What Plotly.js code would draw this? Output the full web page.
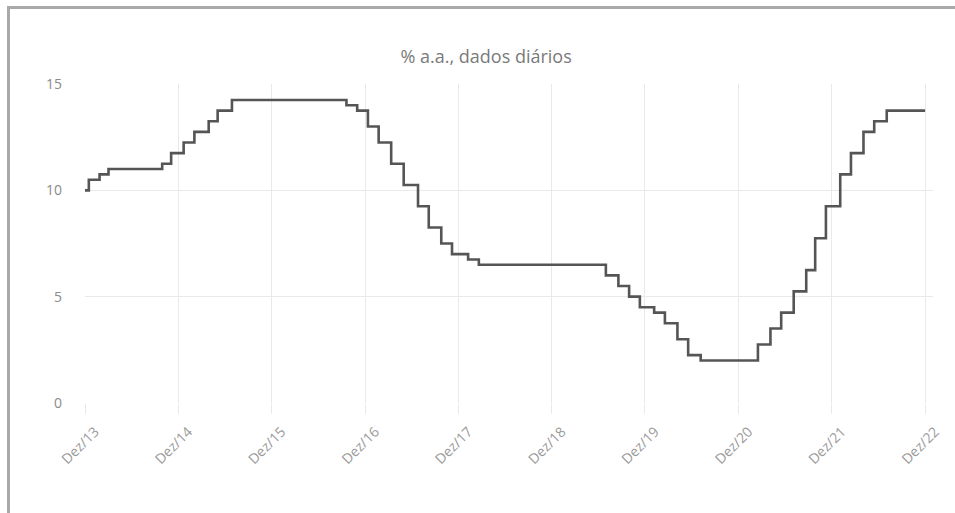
<!DOCTYPE html>
<html>
<head>
<meta charset="utf-8">
<script src="https://cdn.plot.ly/plotly-3.0.1.min.js"></script>
<style>
  html, body { margin: 0; padding: 0; background: #fff; }
  #wrap { position: relative; width: 955px; height: 513px; }
  #chart { width: 955px; height: 513px; }
  #frame { position: absolute; left: 7px; top: 6px; width: 948px; height: 507px;
           border-top: 3px solid #a9a9a9; border-left: 3px solid #a9a9a9;
           box-sizing: border-box; pointer-events: none; }
</style>
</head>
<body>
<div id="wrap">
  <div id="chart"></div>
  <div id="frame"></div>
</div>
<script>
// Meta Selic (% a.a.) — dates of change and the new rate
const changeDates = [
  "2013-12-31", "2014-01-15", "2014-02-26", "2014-04-02", "2014-10-29", "2014-12-03",
  "2015-01-21", "2015-03-04", "2015-04-29", "2015-06-03", "2015-07-29",
  "2016-10-19", "2016-11-30",
  "2017-01-11", "2017-02-22", "2017-04-12", "2017-05-31", "2017-07-26", "2017-09-06", "2017-10-25", "2017-12-06",
  "2018-02-07", "2018-03-21",
  "2019-07-31", "2019-09-18", "2019-10-30", "2019-12-11",
  "2020-02-05", "2020-03-18", "2020-05-06", "2020-06-17", "2020-08-05",
  "2021-03-17", "2021-05-05", "2021-06-16", "2021-08-04", "2021-09-22", "2021-10-27", "2021-12-08",
  "2022-02-02", "2022-03-16", "2022-05-04", "2022-06-15", "2022-08-03", "2022-12-31"
];
const selicValues = [
  10.00, 10.50, 10.75, 11.00, 11.25, 11.75,
  12.25, 12.75, 13.25, 13.75, 14.25,
  14.00, 13.75,
  13.00, 12.25, 11.25, 10.25, 9.25, 8.25, 7.50, 7.00,
  6.75, 6.50,
  6.00, 5.50, 5.00, 4.50,
  4.25, 3.75, 3.00, 2.25, 2.00,
  2.75, 3.50, 4.25, 5.25, 6.25, 7.75, 9.25,
  10.75, 11.75, 12.75, 13.25, 13.75, 13.75
];
const tickDates = ["2013-12-31", "2014-12-31", "2015-12-31", "2016-12-31", "2017-12-31",
                   "2018-12-31", "2019-12-31", "2020-12-31", "2021-12-31", "2022-12-31"];
const tickLabels = ["Dez/13", "Dez/14", "Dez/15", "Dez/16", "Dez/17",
                    "Dez/18", "Dez/19", "Dez/20", "Dez/21", "Dez/22"];
const yTicks = [0, 5, 10, 15];
const chartTitle = "% a.a., dados diários";

const trace = {
  x: changeDates,
  y: selicValues,
  type: "scatter",
  mode: "lines",
  line: { shape: "hv", color: "#555555", width: 2.6 },
  hoverinfo: "x+y"
};

const layout = {
  width: 955,
  height: 513,
  margin: { l: 85, r: 22, t: 84, b: 110 },
  paper_bgcolor: "#ffffff",
  plot_bgcolor: "#ffffff",
  showlegend: false,
  font: { family: "'Open Sans', Lato, sans-serif", color: "#8a8a8a" },
  title: {
    text: chartTitle,
    font: { size: 18, color: "#7a7a7a", family: "'Open Sans', Lato, sans-serif" },
    xref: "container", x: 0.509, xanchor: "center",
    yref: "container", y: 1 - 57 / 513, yanchor: "middle"
  },
  xaxis: {
    type: "date",
    range: ["2013-12-31", "2023-01-31"],
    tickmode: "array",
    tickvals: tickDates,
    ticktext: tickLabels,
    tickangle: -45,
    tickfont: { size: 14, color: "#9a9a9a" },
    ticklabelshift: 10,
    ticklabelstandoff: 4,
    showgrid: true,
    gridcolor: "#e9e9e9",
    gridwidth: 1,
    ticks: "outside",
    ticklen: 10,
    tickcolor: "#e9e9e9",
    showline: false,
    zeroline: false
  },
  yaxis: {
    range: [0, 15],
    tickmode: "array",
    tickvals: yTicks,
    ticktext: yTicks.map(String),
    tickfont: { size: 14, color: "#8a8a8a" },
    ticklabelstandoff: 22,
    showgrid: true,
    gridcolor: "#e9e9e9",
    gridwidth: 1,
    showline: false,
    zeroline: false,
    ticks: ""
  }
};

Plotly.newPlot("chart", [trace], layout, { displayModeBar: false, staticPlot: true });
</script>
</body>
</html>
